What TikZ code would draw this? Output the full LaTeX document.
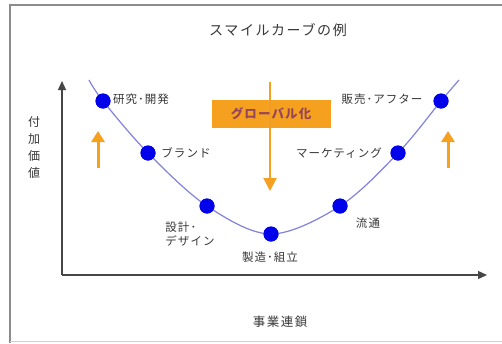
\documentclass[tikz,border=0pt]{standalone}
\usepackage{fontspec}
\setmainfont{Noto Sans CJK JP}
\newfontfamily\lblfont[LetterSpace=9]{Noto Sans CJK JP}
\newfontfamily\ttlfont[LetterSpace=12]{Noto Sans CJK JP}
\usetikzlibrary{arrows.meta}
\definecolor{curvec}{RGB}{130,130,220}
\definecolor{dotc}{RGB}{0,0,235}
\definecolor{orng}{RGB}{245,160,30}
\definecolor{boxtext}{RGB}{150,70,90}
\definecolor{txt}{RGB}{55,55,55}
\definecolor{axisc}{RGB}{70,70,70}
\definecolor{framec}{RGB}{140,140,140}
\begin{document}
\begin{tikzpicture}[x=1pt,y=-1pt,
  dotnode/.style={circle,fill=dotc,inner sep=0pt,minimum size=15pt},
  lbl/.style={text=txt,font=\lblfont\fontsize{11.5}{14}\selectfont,inner sep=0pt},
  axisline/.style={draw=axisc,line width=1.3pt,-{Triangle[length=9pt,width=8pt]}},
  uparrow/.style={draw=orng,line width=3pt,-{Triangle[length=11pt,width=13pt]}}]
\useasboundingbox (0,0) rectangle (502,343);
\fill[white] (0,0) rectangle (502,343);
\draw[framec,line width=1.2pt] (10,343) -- (10,5) -- (502,5);
\draw[framec!40,line width=0.6pt] (10,341) -- (502,341);
% title
\node[lbl,font=\ttlfont\fontsize{14}{16}\selectfont] (title) at (278,30) {スマイルカーブの例};
% axes
\coordinate (origin) at (62,275);
\coordinate (ytip) at (62,81);
\coordinate (xtip) at (487,275);
\draw[axisline] (origin) -- (ytip);
\draw[axisline] (origin) -- (xtip);
\node[lbl,align=center,font=\lblfont\fontsize{12}{17}\selectfont] (ylab) at (34,147) {付\\加\\価\\値};
\node[lbl,font=\ttlfont\fontsize{12.5}{14}\selectfont] (xlab) at (280,322) {事業連鎖};
% curve points
\coordinate (c0) at (89,80);
\coordinate (c8) at (459,80);
\node[dotnode] (d1) at (103,101) {};
\node[dotnode] (d2) at (148,153) {};
\node[dotnode] (d3) at (207,206) {};
\node[dotnode] (d4) at (271,234) {};
\node[dotnode] (d5) at (340,206) {};
\node[dotnode] (d6) at (398,153) {};
\node[dotnode] (d7) at (441,101) {};
\draw[curvec,line width=1.2pt] plot[smooth,tension=0.55] coordinates {(c0) (d1) (d2) (d3) (d4) (d5) (d6) (d7) (c8)};
\foreach \n in {d1,d2,d3,d4,d5,d6,d7} \fill[dotc] (\n) circle (7.5pt);
% labels
\node[lbl] (l1) at (141,99) {研究･開発};
\node[lbl] (l2) at (186,153) {ブランド};
\node[lbl,align=left] (l3) at (190,234) {設計･\\デザイン};
\node[lbl] (l4) at (270,257) {製造･組立};
\node[lbl] (l5) at (368,223) {流通};
\node[lbl] (l6) at (339,153) {マーケティング};
\node[lbl] (l7) at (382,99) {販売･アフター};
% globalization
\coordinate (gtop) at (270,82);
\coordinate (gtip) at (270,191);
\node[fill=orng,minimum width=119pt,minimum height=28pt,inner sep=0pt,text=boxtext,font=\lblfont\fontsize{12.5}{14}\selectfont\bfseries] (gbox) at (271,114) {グローバル化};
\draw[orng,line width=2pt] (gtop) -- (gbox.north -| gtop);
\draw[draw=orng,line width=2pt,-{Triangle[length=13pt,width=13pt]}] (gbox.south -| gtop) -- (gtip);
\draw[orng!85!brown,line width=0.8pt] (gbox.north -| gtop) -- (gbox.south -| gtop);
% up arrows
\coordinate (la0) at (98,168);
\coordinate (la1) at (98,131);
\coordinate (ra0) at (448,168);
\coordinate (ra1) at (448,131);
\draw[uparrow] (la0) -- (la1);
\draw[uparrow] (ra0) -- (ra1);
\end{tikzpicture}
\end{document}
